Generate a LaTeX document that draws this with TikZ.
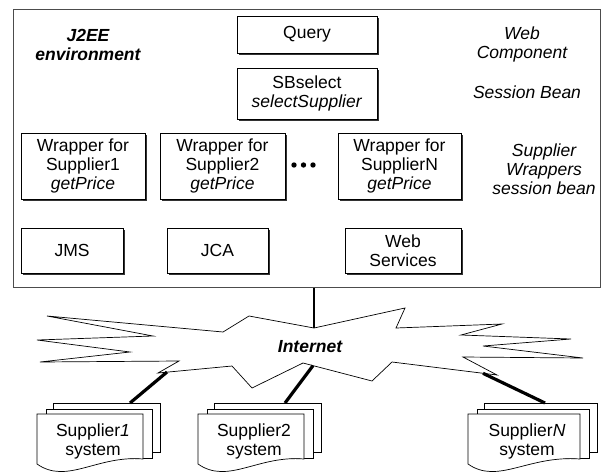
\documentclass[tikz,border=0pt]{standalone}
\usepackage{fontspec}
\setmainfont{Liberation Sans}
\usetikzlibrary{shadows}
\newcommand\fs{\fontsize{17.5}{19}\selectfont}
\tikzset{
  comp/.style={draw, fill=white, line width=0.8pt, align=center, inner sep=0pt,
    font=\fs, drop shadow={shadow xshift=2pt, shadow yshift=-2pt, fill=black!80, opacity=1}},
  lbl/.style={align=center, inner sep=0pt, font=\fs\itshape},
  docpage/.style={draw, fill=white, line width=0.7pt},
  link/.style={line width=3.2pt},
  dotmark/.style={circle, fill, inner sep=0pt, minimum size=5.4pt},
}
% one supplier system: three stacked document pages
% #1 name, #2 left of front page, #3 top of back page, #4 width, #5 label
\newcommand\supdoc[5]{%
  \begin{scope}[shift={(#2,#3)}]
    \draw[docpage] (16,0) rectangle (17+#4,49);
    \draw[docpage] (9,6) rectangle (9+#4,55);
    \draw[docpage] (0,11) -- (#4,11) -- (#4,56)
      .. controls (60,52) and (30,82) .. (0,61) -- cycle;
    \node[font=\fs, align=center, inner sep=0pt] (#1) at (#4/2+3,38) {#5};
  \end{scope}}
\begin{document}
\begin{tikzpicture}[x=1pt, y=-1pt]
\useasboundingbox (0,0) rectangle (607,474);

% application server
\node[draw=black!70, line width=0.8pt, minimum width=587pt, minimum height=278pt,
  anchor=north west, inner sep=0pt] (env) at (13,9) {};

\node[lbl, font=\fs\bfseries\itshape] (j2ee) at (88,44.5) {J2EE\\environment};
\node[lbl] (webc) at (522,44) {Web\\Component};
\node[lbl] (sbean) at (527,92) {Session Bean};
\node[lbl] (wrapl) at (544,169) {Supplier\\Wrappers\\session bean};

\node[comp, minimum width=140pt, minimum height=37pt] (query) at (307,34.5) {Query};
\node[comp, minimum width=140pt, minimum height=51pt] (sbsel) at (307,93.5)
  {SBselect\\\textit{selectSupplier}};

\node[comp, minimum width=124pt, minimum height=66pt] (w1) at (83,166)
  {Wrapper for\\Supplier1\\\textit{getPrice}};
\node[comp, minimum width=125pt, minimum height=66pt] (w2) at (222.5,166)
  {Wrapper for\\Supplier2\\\textit{getPrice}};
\node[comp, minimum width=123pt, minimum height=66pt] (wn) at (399.5,166)
  {Wrapper for\\SupplierN\\\textit{getPrice}};
\node[dotmark] (dot1) at (294,165) {};
\node[dotmark] (dot2) at (303.5,165) {};
\node[dotmark] (dot3) at (313,165) {};

\node[comp, minimum width=102pt, minimum height=45pt] (jms) at (72,250.5) {JMS};
\node[comp, minimum width=101pt, minimum height=45pt] (jca) at (217.5,250.5) {JCA};
\node[comp, minimum width=116pt, minimum height=45pt] (ws) at (403,250.5) {Web\\Services};

% the Internet cloud
\draw[fill=white, line width=0.7pt] (314,328) -- (405,308) -- (396,328) -- (502,324)
  -- (461,335) -- (571,339) -- (483,346) -- (583,358) -- (463,357) -- (497,375)
  -- (392,362) -- (372,381) -- (303,363) -- (252,388) -- (232,366) -- (158,373)
  -- (179,361) -- (40,362) -- (130,352) -- (37,340) -- (153,336) -- (47,316)
  -- (223,332) -- (249,316) -- cycle;
\node[font=\fs\bfseries\itshape, inner sep=0pt] (internet) at (310,347) {Internet};
\coordinate (nettop) at (314,328);
\coordinate (net1) at (167,372);
\coordinate (net2) at (313,365.6);
\coordinate (netn) at (483,373.3);

% supplier systems
\supdoc{s1}{37}{403}{106}{Supplier\textit{1}\\system}
\supdoc{s2}{198}{403}{106}{Supplier2\\system}
\supdoc{sn}{468}{403}{112}{Supplier\textit{N}\\system}
\coordinate (s1top) at (130,403);
\coordinate (s2top) at (285,403);
\coordinate (sntop) at (545,403);

% connections
\draw[line width=2.4pt] (env.south -| nettop) -- (nettop);
\draw[link] (net1) -- (s1top);
\draw[link] (net2) -- (s2top);
\draw[link] (netn) -- (sntop);
\end{tikzpicture}
\end{document}
